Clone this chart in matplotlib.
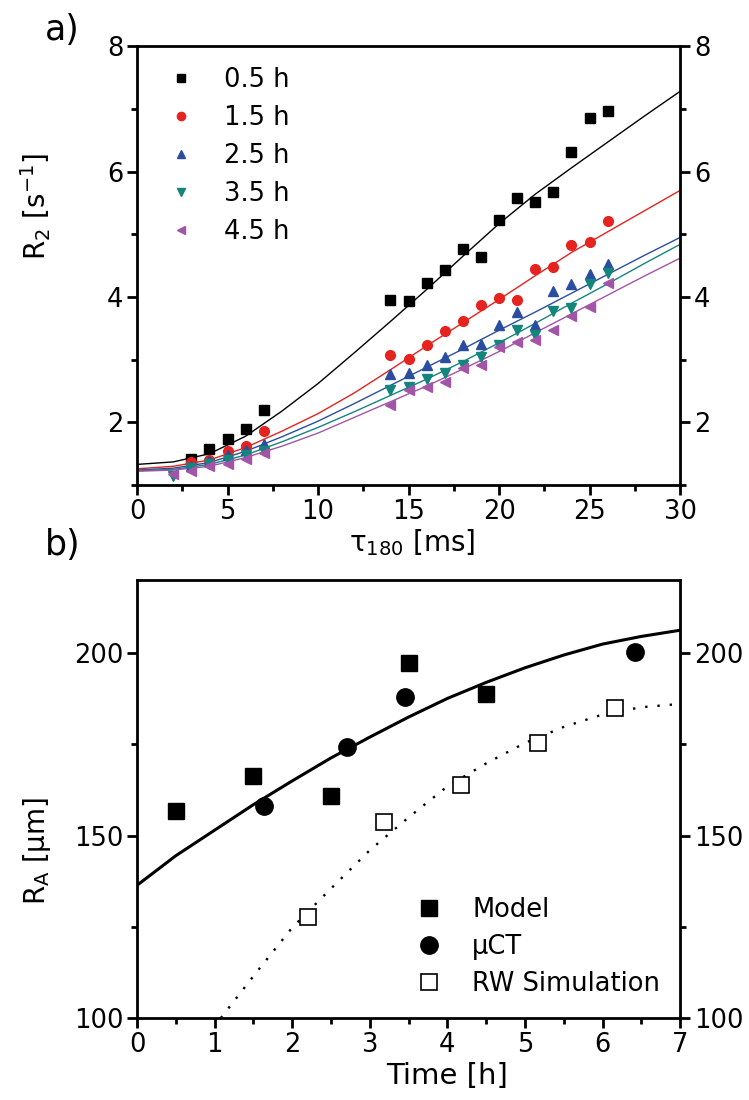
import numpy as np
import matplotlib.pyplot as plt
from matplotlib.ticker import MultipleLocator

plt.rcParams['font.family'] = ['DejaVu Sans']
plt.rcParams['mathtext.default'] = 'regular'

# ---- panel a: R2 vs tau180, measured points ----
tau_b = [3, 4, 5, 6, 7, 14, 15, 16, 17, 18, 19, 20, 21, 22, 23, 24, 25, 26]
r2_05 = [1.41, 1.57, 1.73, 1.90, 2.19, 3.95, 3.94, 4.22, 4.43, 4.77, 4.64,
         5.23, 5.58, 5.52, 5.68, 6.32, 6.86, 6.96]
tau_r = [3, 4, 5, 6, 7, 14, 15, 16, 17, 18, 19, 20, 21, 22, 23, 24, 25, 26]
r2_15 = [1.37, 1.40, 1.55, 1.63, 1.86, 3.08, 3.01, 3.23, 3.45, 3.62, 3.88,
         3.98, 3.95, 4.44, 4.48, 4.83, 4.88, 5.22]
tau_t = [3, 4, 5, 6, 7, 14, 15, 16, 17, 18, 19, 20, 21, 22, 23, 24, 25, 26]
r2_25 = [1.30, 1.38, 1.48, 1.56, 1.65, 2.77, 2.79, 2.92, 3.04, 3.23, 3.25,
         3.55, 3.76, 3.56, 4.10, 4.20, 4.37, 4.52]
tau_c = [2, 3, 4, 5, 6, 7, 14, 15, 16, 17, 18, 19, 20, 21, 22, 23, 24, 25, 26]
r2_35 = [1.14, 1.27, 1.34, 1.40, 1.48, 1.55, 2.51, 2.56, 2.69, 2.79, 2.92,
         3.04, 3.23, 3.47, 3.40, 3.78, 3.83, 4.20, 4.39]
tau_p = [2, 3, 4, 5, 6, 7, 14, 15, 16, 17, 18, 19, 20, 21, 22, 23, 24, 25, 26]
r2_45 = [1.17, 1.23, 1.30, 1.33, 1.42, 1.51, 2.28, 2.52, 2.57, 2.64, 2.87,
         2.92, 3.21, 3.29, 3.31, 3.47, 3.69, 3.84, 4.23]

# fitted curves
tau_fit = [0, 2, 4, 6, 8, 10, 12, 14, 16, 18, 20, 22, 24, 26, 28, 30]
fit_05 = [1.33, 1.37, 1.50, 1.78, 2.18, 2.62, 3.11, 3.61, 4.12, 4.65, 5.17,
          5.64, 6.06, 6.47, 6.88, 7.28]
fit_15 = [1.26, 1.30, 1.40, 1.60, 1.86, 2.14, 2.47, 2.84, 3.22, 3.59, 3.96,
          4.34, 4.71, 5.04, 5.37, 5.70]
fit_25 = [1.24, 1.27, 1.36, 1.54, 1.77, 2.02, 2.30, 2.59, 2.88, 3.17, 3.47,
          3.76, 4.06, 4.36, 4.66, 4.95]
fit_35 = [1.23, 1.25, 1.33, 1.48, 1.69, 1.92, 2.17, 2.43, 2.69, 2.97, 3.27,
          3.58, 3.90, 4.21, 4.53, 4.84]
fit_45 = [1.22, 1.24, 1.30, 1.44, 1.62, 1.83, 2.08, 2.33, 2.58, 2.85, 3.13,
          3.43, 3.73, 4.03, 4.33, 4.62]

labels_a = ['0.5 h', '1.5 h', '2.5 h', '3.5 h', '4.5 h']
colors_a = ['#000000', '#e5231f', '#2b4da0', '#13857d', '#a255a6']
markers_a = ['s', 'o', '^', 'v', '<']

# ---- panel b: R_A vs time ----
t_model = [0.5, 1.5, 2.5, 3.5, 4.5]
ra_model = [156.8, 166.4, 160.9, 197.4, 188.8]
t_uct = [1.64, 2.71, 3.45, 6.42]
ra_uct = [158.2, 174.3, 188.0, 200.4]
t_rw = [2.2, 3.18, 4.18, 5.17, 6.16]
ra_rw = [127.6, 153.6, 164.0, 175.5, 185.0]

t_solid = [0, 0.5, 1, 1.5, 2, 2.5, 3, 3.5, 4, 4.5, 5, 5.5, 6, 6.5, 7]
ra_solid = [136.4, 144.5, 151.5, 158.5, 165.0, 171.3, 177.0, 182.5, 187.6,
            192.0, 196.0, 199.5, 202.5, 204.6, 206.3]
t_dot = [1.08, 1.5, 2, 2.5, 3, 3.5, 4, 4.5, 5, 5.5, 6, 6.5, 7]
ra_dot = [100.0, 111.5, 124.8, 135.5, 146.0, 155.0, 163.5, 169.8, 175.4,
          179.8, 183.2, 185.2, 186.1]


fig = plt.figure(figsize=(7.49, 11.0), dpi=100)
ax1 = fig.add_axes([0.183, 0.559, 0.725, 0.399])
ax2 = fig.add_axes([0.183, 0.0745, 0.725, 0.398])

series = [(tau_b, r2_05, fit_05), (tau_r, r2_15, fit_15), (tau_t, r2_25, fit_25),
          (tau_c, r2_35, fit_35), (tau_p, r2_45, fit_45)]
for (xs, ys, fit), col in zip(series, colors_a):
    ax1.plot(tau_fit, fit, '-', color=col, lw=1.0)
for (xs, ys, fit), lab, col, mk in zip(series, labels_a, colors_a, markers_a):
    ax1.plot(xs, ys, mk, color=col, ms=7, ls='none', label=lab)

ax1.set_xlim(0, 30)
ax1.set_ylim(1, 8)
ax1.xaxis.set_major_locator(MultipleLocator(5))
ax1.xaxis.set_minor_locator(MultipleLocator(2.5))
ax1.yaxis.set_major_locator(MultipleLocator(2))
ax1.yaxis.set_minor_locator(MultipleLocator(1))
ax1.set_xlabel('τ$_{180}$ [ms]', fontsize=20)
ax1.xaxis.set_label_coords(0.507, -0.095)
ax1.set_ylabel('R$_2$ [s$^{-1}$]', fontsize=20)
ax1.yaxis.set_label_coords(-0.155, 0.635)
ax1.legend(loc='upper left', bbox_to_anchor=(0.02, 0.993), frameon=False,
           fontsize=18.5, markerscale=0.85, handlelength=1.2, handletextpad=1.05,
           labelspacing=0.46, borderaxespad=0.3)
fig.text(0.06, 0.973, 'a)', fontsize=25, va='center', ha='left')

ax2.plot(t_solid, ra_solid, '-', color='black', lw=2.2)
ax2.plot(t_dot, ra_dot, color='black', lw=1.7, ls=(0, (1, 4.2)))
ax2.plot(t_model, ra_model, 's', color='black', ms=12, ls='none', label='Model')
ax2.plot(t_uct, ra_uct, 'o', color='black', ms=12.5, ls='none', label='µCT')
ax2.plot(t_rw, ra_rw, 's', mfc='white', mec='black', mew=1.2, ms=11,
         ls='none', label='RW Simulation')

ax2.set_xlim(0, 7)
ax2.set_ylim(100, 220)
ax2.xaxis.set_major_locator(MultipleLocator(1))
ax2.xaxis.set_minor_locator(MultipleLocator(0.5))
ax2.yaxis.set_major_locator(MultipleLocator(50))
ax2.yaxis.set_minor_locator(MultipleLocator(25))
ax2.set_xlabel('Time [h]', fontsize=21)
ax2.xaxis.set_label_coords(0.57, -0.1)
ax2.set_ylabel('R$_A$ [µm]', fontsize=20)
ax2.yaxis.set_label_coords(-0.155, 0.38)
ax2.legend(loc='lower left', bbox_to_anchor=(0.48, 0.008), frameon=False,
           fontsize=18.5, handlelength=1.0, handletextpad=1.2,
           labelspacing=0.42, borderaxespad=0.3)
fig.text(0.06, 0.505, 'b)', fontsize=25, va='center', ha='left')

for ax in (ax1, ax2):
    for sp in ax.spines.values():
        sp.set_linewidth(2)
    ax.tick_params(which='both', direction='out', width=2, top=False,
                   right=True, labelright=True, labelsize=18.5, pad=3)
    ax.tick_params(which='major', length=7)
    ax.tick_params(which='minor', length=4)

fig.savefig('out.png', dpi=100)
